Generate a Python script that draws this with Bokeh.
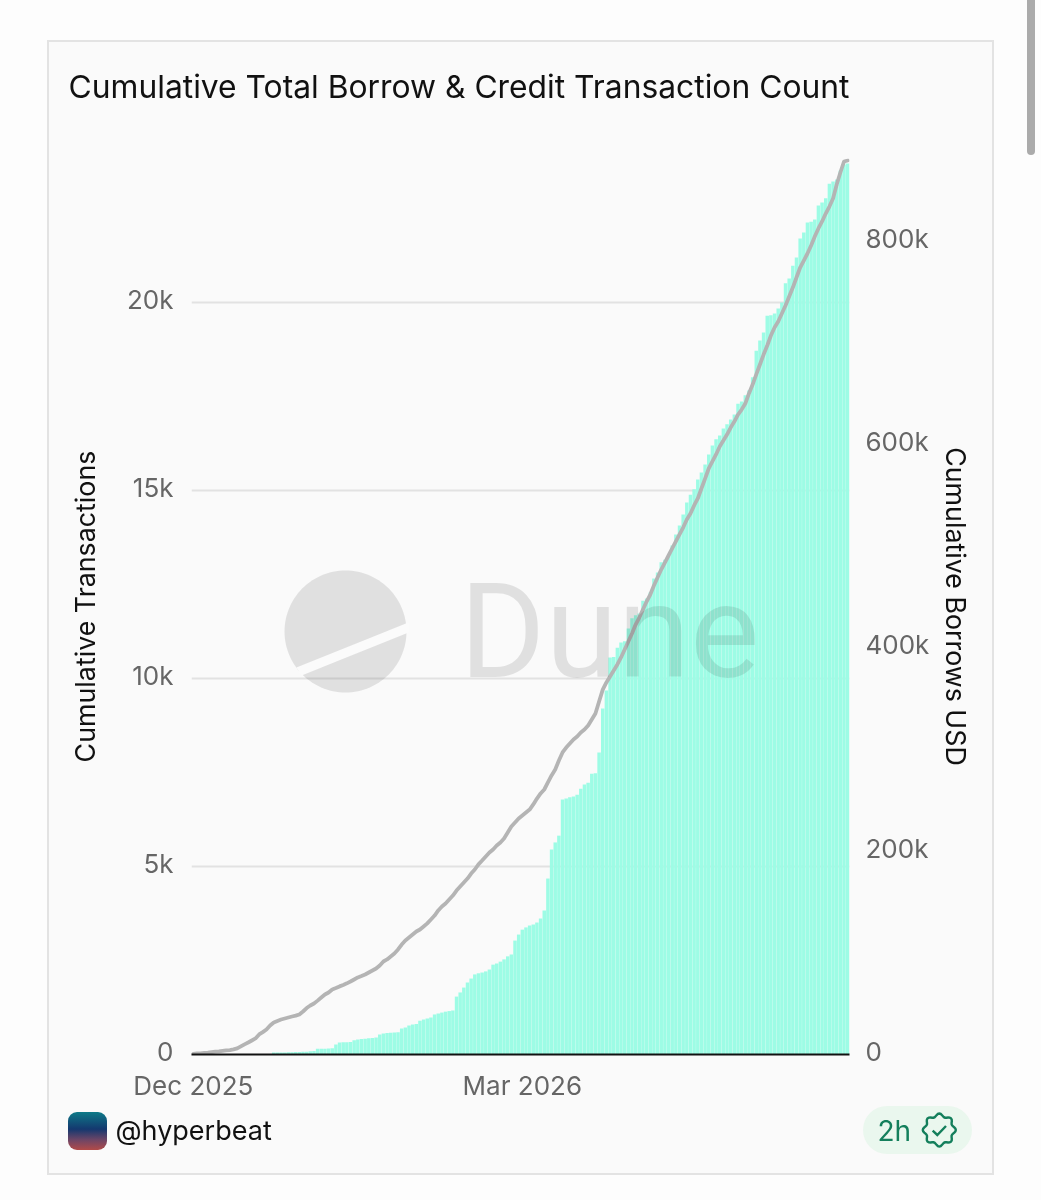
import math
import pandas as pd
from bokeh.plotting import figure
from bokeh.layouts import column
from bokeh.models import (Range1d, LinearAxis, FixedTicker, Label, PolyAnnotation, Title, Div)
from bokeh.embed import file_html
from bokeh.resources import INLINE

chart_title = "Cumulative Total Borrow & Credit Transaction Count"
left_label = "Cumulative Transactions"
right_label = "Cumulative Borrows USD"
left_ticks = [0, 5000, 10000, 15000, 20000]
left_tick_labels = ["0", "5k", "10k", "15k", "20k"]
right_ticks = [0, 200000, 400000, 600000, 800000]
right_tick_labels = ["0", "200k", "400k", "600k", "800k"]
x_tick_dates = ["2025-12-01", "2026-03-01"]
x_tick_labels = ["Dec 2025", "Mar 2026"]
author = "@hyperbeat"
age = "2h"
start_date = "2025-12-01"

# cumulative transactions, one value per day
transactions = [
    0, 0, 0, 0, 0, 0, 0, 0, 0, 0, 0, 0, 0, 0, 0, 0, 0, 0, 0, 0, 0, 0,
    50, 50, 55, 55, 60, 60, 65, 65, 70, 75, 85, 95, 150, 155, 155, 160, 165,
    265, 320, 325, 325, 330, 380, 400, 410, 420, 430, 440, 450, 530, 560, 570,
    580, 585, 590, 690, 720, 770, 800, 810, 900, 930, 955, 985, 1065, 1090,
    1115, 1140, 1155, 1170, 1540, 1650, 1780, 1915, 2020, 2130, 2160, 2180,
    2210, 2260, 2390, 2420, 2470, 2530, 2610, 2660, 3030, 3190, 3320, 3380,
    3430, 3460, 3510, 3620, 3830, 4680, 5450, 5640, 5820, 6780, 6810, 6840,
    6860, 6910, 7070, 7180, 7230, 7470, 7480, 8030, 9200, 9680, 10560, 10570,
    10820, 10960, 10990, 11330, 11600, 11680, 11730, 12070, 12130, 12290,
    12660, 12820, 13090, 13160, 13250, 13540, 13830, 14070, 14360, 14680,
    14890, 15030, 15290, 15480, 15690, 15960, 16200, 16360, 16460, 16650,
    16760, 16890, 17020, 17310, 17370, 17530, 17660, 18010, 18720, 18990,
    19200, 19650, 19660, 19710, 19840, 20000, 20510, 20640, 20980, 21200,
    21700, 21860, 22130, 22150, 22210, 22580, 22660, 22770, 23160, 23220,
    23270, 23510, 23670, 23700,
]

# cumulative borrows in thousands of USD, one value per day
borrows_k = [
    0.5, 1, 1, 1.5, 1.8, 2.3, 2.8, 3, 3.5, 4, 4.3, 5, 6, 8, 10, 11.8, 13.8,
    15.8, 19.7, 22, 24.6, 28.5, 31.5, 33, 34.4, 35.4, 36.4, 37.4, 38.2, 39.4,
    42.3, 45.7, 48.2, 50.2, 53, 56, 59, 61, 64, 65.4, 67, 68.4, 70, 71.8, 73.8,
    75.8, 77.2, 78.7, 80.7, 82.6, 84.6, 87.6, 91.5, 93.5, 96.4, 99.4, 103.3,
    108.2, 112.1, 115, 118, 121, 123, 126, 129, 132.8, 136.7, 141.7, 145.6,
    148.6, 152.5, 156.4, 161.3, 165.3, 169.2, 173.1, 178, 182, 187, 190.8,
    194.8, 198.7, 201.7, 205.6, 208.6, 212.5, 218.4, 224.3, 228.2, 232.2,
    235.1, 238.1, 241, 246, 251.8, 256.8, 260.7, 267.6, 274.5, 280.4, 289.2,
    297.1, 302, 306, 309.9, 312.8, 316.8, 319.7, 323.7, 329.6, 335.5, 347.3,
    359, 366, 371.9, 377.8, 383.7, 390.6, 398.4, 406.3, 414.2, 423, 429.9,
    437.8, 445.6, 452.5, 461.4, 469.3, 477.1, 484, 490.9, 497.8, 504.7, 511.6,
    518.4, 526.3, 532.2, 540.1, 547, 556.8, 566.6, 576.5, 583.4, 590.3, 598.1,
    604, 609.9, 616.8, 622.7, 629.6, 634.5, 640.4, 650.3, 659.1, 669, 678.8,
    688.6, 697.5, 707.3, 715.2, 721.1, 729, 736.8, 745.7, 754.5, 764.4, 774.2,
    781.1, 788, 795.9, 804.7, 812.6, 819.5, 827.3, 834.2, 842.1, 855.9, 867.7,
    878.5, 879.5,
]

dates = pd.date_range(start_date, periods=len(transactions), freq="D")
borrows = [v * 1000 for v in borrows_k]
DAY = 86400000

F_LEFT, F_RIGHT, F_TOP, F_BOTTOM = 191, 849, 158, 1054
W, H = 1036, 1200
TXPX = 37.6 / 1000      # pixels per transaction
USDPX = 1.0165 / 1000   # pixels per USD
LABEL_LIFT = 3          # tick labels sit slightly above their gridlines

x0 = dates[0] - pd.Timedelta(hours=12)
x1 = x0 + pd.Timedelta(days=180)
frame_h = F_BOTTOM - F_TOP

p = figure(width=W, height=H, output_backend="svg", toolbar_location=None,
           x_axis_type="datetime",
           x_range=Range1d(x0, x1),
           y_range=Range1d(0, frame_h / TXPX),
           min_border_left=F_LEFT, min_border_right=W - F_RIGHT,
           min_border_top=F_TOP, min_border_bottom=H - F_BOTTOM, margin=0)
p.extra_y_ranges = {
    "usd": Range1d(0, frame_h / USDPX),
    "tx_labels": Range1d(-LABEL_LIFT / TXPX, (frame_h - LABEL_LIFT) / TXPX),
    "usd_labels": Range1d(-LABEL_LIFT / USDPX, (frame_h - LABEL_LIFT) / USDPX),
}
p.border_fill_color = None
p.background_fill_color = None
p.outline_line_color = None
p.xgrid.visible = False
p.ygrid.ticker = FixedTicker(ticks=left_ticks)
p.ygrid.grid_line_color = "#E2E2E2"
p.ygrid.grid_line_width = 2

def side_label(x, y, text, **kw):
    lab = Label(x=x, y=y, x_units="canvas", y_units="canvas", text=text,
                text_font="Inter", **kw)
    p.add_layout(lab, "below")

def poly(pts, **kw):
    p.add_layout(PolyAnnotation(xs=[a for a, _ in pts], ys=[b for _, b in pts],
                                xs_units="canvas", ys_units="canvas", **kw))

# bars and line
p.vbar(x=dates, top=transactions, width=0.95 * DAY, fill_color="#9DFCE5", line_color=None)
p.line(x=dates, y=borrows, y_range_name="usd", line_color="#B4B4B4", line_width=3.8,
       line_join="round", line_cap="round")

# axes
p.yaxis.visible = False
lax = LinearAxis(y_range_name="tx_labels", ticker=FixedTicker(ticks=left_ticks),
                 major_label_overrides=dict(zip(left_ticks, left_tick_labels)))
p.add_layout(lax, "left")
rax = LinearAxis(y_range_name="usd_labels", ticker=FixedTicker(ticks=right_ticks),
                 major_label_overrides=dict(zip(right_ticks, right_tick_labels)))
p.add_layout(rax, "right")
xax = p.xaxis[0]
tick_ms = [int(pd.Timestamp(d).value // 10**6) for d in x_tick_dates]
xax.ticker = FixedTicker(ticks=tick_ms)
xax.major_label_overrides = dict(zip(tick_ms, x_tick_labels))

for ax in (lax, rax, xax):
    ax.major_tick_line_color = None
    ax.minor_tick_line_color = None
    ax.major_tick_out = 0
    ax.major_tick_in = 0
    ax.minor_tick_out = 0
    ax.major_label_text_font = "Inter"
    ax.major_label_text_font_size = "26px"
    ax.major_label_text_color = "#666666"
for ax in (lax, rax):
    ax.axis_line_color = None
    ax.axis_label_text_font = "Inter"
    ax.axis_label_text_font_size = "26.8px"
    ax.axis_label_text_font_style = "normal"
    ax.axis_label_text_color = "#111111"
lax.axis_label = left_label
rax.axis_label = right_label
lax.major_label_standoff = 18
rax.major_label_standoff = 16
lax.axis_label_standoff = 23
rax.axis_label_standoff = 8
xax.axis_line_color = "#111111"
xax.axis_line_width = 2
xax.major_label_standoff = 15

# title
p.title = Title(text=chart_title, text_font="Inter", text_font_size="31.8px",
                text_font_style="normal", text_color="#111111",
                offset=68 - F_LEFT, standoff=105)
p.title.align = "left"

# watermark
cx, cy, r = 345, 631, 61
poly([(cx + r * math.cos(a * math.pi / 60), cy + r * math.sin(a * math.pi / 60)) for a in range(120)],
     fill_color="#000000", fill_alpha=0.1, line_color=None)
poly([(296, 667), (408, 622), (408, 632), (301, 675)], fill_color="#FBFBFB", fill_alpha=1, line_color=None)
p.add_layout(Label(x=459, y=631, x_units="canvas", y_units="canvas", text="Dune",
                   text_font="Roboto", text_font_size="131px",
                   text_color="#000000", text_alpha=0.1, text_baseline="middle"))

# footer texts
side_label(115, 1130, author, text_font_size="27px", text_color="#111111", text_baseline="middle")
side_label(877, 1130, age, text_font_size="28px", text_color="#147F5C", text_baseline="middle")

# page furniture behind the transparent figure
bx, by = 939.3, 1130
wavy = " ".join(
    "%.1f,%.1f" % (bx + (15 + 1.5 * math.cos(8 * a * math.pi / 36)) * math.cos(a * math.pi / 36),
                   by + (15 + 1.5 * math.cos(8 * a * math.pi / 36)) * math.sin(a * math.pi / 36))
    for a in range(72))
def fixed(l, t, w, h, extra):
    return (f'<div style="position:fixed;left:{l}px;top:{t}px;width:{w}px;height:{h}px;'
            f'box-sizing:border-box;z-index:-1;{extra}"></div>')
html = (
    fixed(0, 0, 1041, 1200, "background:#FDFDFD")
    + fixed(47, 40, 947, 1135, "background:#FAFAFA;border:2.5px solid #E3E3E3")
    + fixed(1027, -6, 8, 161, "background:#ABABAB;border-radius:4px")
    + fixed(68, 1112, 39, 38, "border-radius:9px;background:linear-gradient(180deg,"
            "#0E7A88 0%,#14386F 45%,#6A4567 72%,#B24A48 100%)")
    + fixed(863, 1106, 109, 48, "background:#EAF7EE;border-radius:24px")
    + '<svg width="1041" height="1200" style="position:fixed;left:0;top:0;z-index:-1">'
    + f'<polygon points="{wavy}" fill="none" stroke="#147F5C" stroke-width="2.4"/>'
    + '<polyline points="932.7,1130.7 937.3,1135 946,1126" fill="none" stroke="#147F5C" stroke-width="2.4"/>'
    + '</svg>'
)
furniture = Div(text=html, width=0, height=0, margin=0)

open("out.html", "w").write(file_html(column(furniture, p, spacing=0), INLINE))
